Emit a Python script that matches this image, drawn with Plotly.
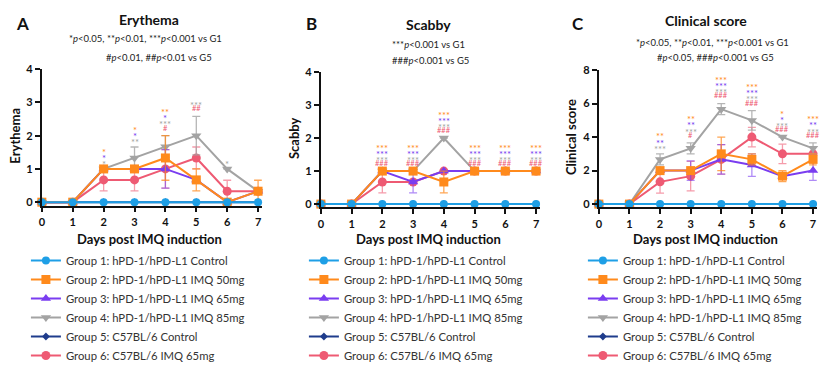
import plotly.graph_objects as go

days = [0, 1, 2, 3, 4, 5, 6, 7]
day_ticks = ["0", "1", "2", "3", "4", "5", "6", "7"]

group_names = [
    "Group 1: hPD-1/hPD-L1 Control",
    "Group 2: hPD-1/hPD-L1 IMQ 50mg",
    "Group 3: hPD-1/hPD-L1 IMQ 65mg",
    "Group 4: hPD-1/hPD-L1 IMQ 85mg",
    "Group 5: C57BL/6 Control",
    "Group 6: C57BL/6 IMQ 65mg",
]

# ---- Erythema ----
ery_g1 = [0, 0, 0, 0, 0, 0, 0, 0]
ery_g2 = [0, 0, 1, 1, 1.33, 0.67, 0, 0.33]
ery_g3 = [0, 0, 1, 1, 1, 0.67, 0, 0.33]
ery_g4 = [0, 0, 1, 1.33, 1.67, 2, 1, 0.33]
ery_g5 = [0, 0, 0, 0, 0, 0, 0, 0]
ery_g6 = [0, 0, 0.67, 0.67, 1, 1.33, 0.33, 0.33]
ery_e2 = [0, 0, 0, 0, 0.67, 0.33, 0, 0.33]
ery_e3 = [0, 0, 0, 0, 0.58, 0, 0, 0]
ery_e4 = [0, 0, 0, 0.33, 0.33, 0.58, 0, 0]
ery_e6 = [0, 0, 0.33, 0.33, 0.58, 0.33, 0.33, 0]
ery_sig = [  # (day, group, label)
    (2, 4, "*"), (2, 3, "*"), (2, 2, "*"),
    (3, 4, "**"), (3, 3, "*"), (3, 2, "*"),
    (4, 6, "#"), (4, 4, "***"), (4, 3, "*"), (4, 2, "**"),
    (5, 6, "##"), (5, 4, "***"),
    (6, 4, "*"),
]

# ---- Scabby ----
scab_g1 = [0, 0, 0, 0, 0, 0, 0, 0]
scab_g2 = [0, 0, 1, 1, 0.67, 1, 1, 1]
scab_g3 = [0, 0, 1, 0.67, 1, 1, 1, 1]
scab_g4 = [0, 0, 1, 1, 2, 1, 1, 1]
scab_g5 = [0, 0, 0, 0, 0, 0, 0, 0]
scab_g6 = [0, 0, 0.67, 0.67, 1, 1, 1, 1]
scab_e2 = [0, 0, 0, 0, 0.33, 0, 0, 0]
scab_e3 = [0, 0, 0, 0.33, 0, 0, 0, 0]
scab_e4 = [0, 0, 0, 0, 0, 0, 0, 0]
scab_e6 = [0, 0, 0.33, 0, 0, 0, 0, 0]
scab_sig = []
for d in [2, 3, 4, 5, 6, 7]:
    scab_sig += [(d, 6, "###"), (d, 4, "***"), (d, 3, "***"), (d, 2, "***")]

# ---- Clinical score ----
clin_g1 = [0, 0, 0, 0, 0, 0, 0, 0]
clin_g2 = [0, 0, 2, 2, 3, 2.67, 1.67, 2.67]
clin_g3 = [0, 0, 2, 2, 2.67, 2.33, 1.67, 2]
clin_g4 = [0, 0, 2.67, 3.33, 5.67, 5, 4, 3.33]
clin_g5 = [0, 0, 0, 0, 0, 0, 0, 0]
clin_g6 = [0, 0, 1.33, 1.67, 2.67, 4, 3, 3]
clin_e2 = [0, 0, 0, 0, 1, 0.33, 0.33, 0.33]
clin_e3 = [0, 0, 0, 0.58, 0.88, 0.67, 0, 0.58]
clin_e4 = [0, 0, 0.33, 0.33, 0.33, 0.58, 0, 0.33]
clin_e6 = [0, 0, 0.67, 0.88, 0.88, 0.58, 0.58, 0]
clin_sig = [
    (2, 4, "***"), (2, 3, "**"), (2, 2, "**"),
    (3, 6, "#"), (3, 4, "***"), (3, 3, "**"), (3, 2, "**"),
    (4, 6, "###"), (4, 4, "***"), (4, 3, "***"), (4, 2, "***"),
    (5, 6, "###"), (5, 4, "***"), (5, 3, "***"), (5, 2, "***"),
    (6, 6, "###"), (6, 4, "***"), (6, 3, "*"), (6, 2, "*"),
    (7, 6, "###"), (7, 4, "***"), (7, 3, "**"), (7, 2, "***"),
]

# ---------------- styling ----------------
W, H = 831, 370
colors = {1: "#1E9FE6", 2: "#FF8A1C", 3: "#7A3DF0", 4: "#A3A3A3", 5: "#1F3C8C", 6: "#EE5A73"}
err_colors = {2: "rgba(255,138,28,0.75)", 3: "rgba(122,61,240,0.6)",
              4: "rgba(163,163,163,0.8)", 6: "rgba(238,90,115,0.6)"}
symbols = {1: "circle", 2: "square", 3: "triangle-up", 4: "triangle-down", 5: "diamond", 6: "circle"}
msizes = {1: 8, 2: 9, 3: 9, 4: 9, 5: 6, 6: 9}
FONT = "Lato"

panels = [
    dict(letter="A", title="Erythema", ylab="Erythema",
         vals={1: ery_g1, 2: ery_g2, 3: ery_g3, 4: ery_g4, 5: ery_g5, 6: ery_g6},
         errs={2: ery_e2, 3: ery_e3, 4: ery_e4, 6: ery_e6}, sig=ery_sig,
         x0=39, x7=256, ytop=65, y0=204, ymax=4, dtick=1,
         sub1="*<i>p</i>&lt;0.05, **<i>p</i>&lt;0.01, ***<i>p</i>&lt;0.001 vs G1",
         sub2="#<i>p</i>&lt;0.01, ##<i>p</i>&lt;0.01 vs G5",
         tx=147, ty=13, s1x=143, s1y=33, s2x=157, s2y=53, lx=20, yl_x=12),
    dict(letter="B", title="Scabby", ylab="Scabby",
         vals={1: scab_g1, 2: scab_g2, 3: scab_g3, 4: scab_g4, 5: scab_g5, 6: scab_g6},
         errs={2: scab_e2, 3: scab_e3, 4: scab_e4, 6: scab_e6}, sig=scab_sig,
         x0=319, x7=535, ytop=68, y0=206, ymax=4, dtick=1,
         sub1="***<i>p</i>&lt;0.001 vs G1",
         sub2="###<i>p</i>&lt;0.001 vs G5",
         tx=427, ty=18, s1x=427, s1y=39, s2x=429, s2y=56, lx=310, yl_x=292),
    dict(letter="C", title="Clinical score", ylab="Clinical score",
         vals={1: clin_g1, 2: clin_g2, 3: clin_g3, 4: clin_g4, 5: clin_g5, 6: clin_g6},
         errs={2: clin_e2, 3: clin_e3, 4: clin_e4, 6: clin_e6}, sig=clin_sig,
         x0=598, x7=813, ytop=66, y0=206, ymax=8, dtick=2,
         sub1="*<i>p</i>&lt;0.05, **<i>p</i>&lt;0.01, ***<i>p</i>&lt;0.001 vs G1",
         sub2="#<i>p</i>&lt;0.05, ###<i>p</i>&lt;0.001 vs G5",
         tx=706, ty=14, s1x=712, s1y=37, s2x=715, s2y=53, lx=577, yl_x=570),
]

fig = go.Figure()
annotations = []
layout_axes = {}
legend_names = ["legend", "legend2", "legend3"]
draw_order = [6, 5, 4, 3, 2, 1]

for i, p in enumerate(panels):
    sfx = "" if i == 0 else str(i + 1)
    xref, yref = "x" + sfx, "y" + sfx
    ppx = (p["x7"] - p["x0"]) / 7.0
    ppu = (p["y0"] - p["ytop"]) / p["ymax"]
    xmax = 7.12
    yneg = -3.5 / ppu
    xr = p["x0"] + xmax * ppx
    ybot = p["y0"] + 3.5
    layout_axes["xaxis" + sfx] = dict(
        domain=[p["x0"] / W, xr / W], range=[0, xmax], anchor=yref,
        tickmode="array", tickvals=days, ticktext=day_ticks,
        showline=True, linecolor="#111", linewidth=1.8, ticks="outside",
        ticklen=5, tickwidth=1.5, tickcolor="#111", showgrid=False, zeroline=False,
        tickfont=dict(family=FONT, size=11, color="#111", weight="bold"))
    layout_axes["yaxis" + sfx] = dict(
        domain=[1 - ybot / H, 1 - p["ytop"] / H], range=[yneg, p["ymax"]], anchor=xref,
        tickmode="linear", tick0=0, dtick=p["dtick"],
        showline=True, linecolor="#111", linewidth=1.8, ticks="outside",
        ticklen=5, tickwidth=1.5, tickcolor="#111", showgrid=False, zeroline=False,
        tickfont=dict(family=FONT, size=11, color="#111", weight="bold"))

    for g in draw_order:
        err = p["errs"].get(g)
        fig.add_trace(go.Scatter(
            x=days, y=p["vals"][g], name=group_names[g - 1], mode="lines+markers",
            xaxis=xref, yaxis=yref, legend=legend_names[i], legendrank=g,
            line=dict(color=colors[g], width=2),
            marker=dict(symbol=symbols[g], size=msizes[g], color=colors[g]),
            error_y=(dict(type="data", array=err, visible=True, color=err_colors[g],
                          thickness=1.3, width=4) if err else None),
            cliponaxis=False, hoverinfo="skip"))

    # significance marks stacked above highest point at each day
    level = {}
    for d, g, lab in p["sig"]:
        top = 0
        for gg, v in p["vals"].items():
            e = p["errs"].get(gg)
            top = max(top, v[d] + (e[d] if e else 0))
        k = level.get(d, 0)
        level[d] = k + 1
        yv = top + (8 + 6.4 * k) / ppu
        star = "*" in lab
        annotations.append(dict(x=d, y=yv, xref=xref, yref=yref, text=lab,
                                showarrow=False, yanchor="middle",
                                yshift=(-3 if star else 0),
                                font=dict(family=FONT, size=9.5 if star else 7.5,
                                          color=colors[g])))

    # titles & texts
    annotations += [
        dict(x=p["lx"] / W, y=1 - 17 / H, xref="paper", yref="paper", text="<b>" + p["letter"] + "</b>",
             showarrow=False, xanchor="center", yanchor="middle",
             font=dict(family=FONT, size=17, color="#111")),
        dict(x=p["tx"] / W, y=1 - p["ty"] / H, xref="paper", yref="paper", text="<b>" + p["title"] + "</b>",
             showarrow=False, xanchor="center", yanchor="middle",
             font=dict(family=FONT, size=14, color="#111")),
        dict(x=p["s1x"] / W, y=1 - p["s1y"] / H, xref="paper", yref="paper", text=p["sub1"],
             showarrow=False, xanchor="center", yanchor="middle",
             font=dict(family=FONT, size=9.5, color="#222")),
        dict(x=p["s2x"] / W, y=1 - p["s2y"] / H, xref="paper", yref="paper", text=p["sub2"],
             showarrow=False, xanchor="center", yanchor="middle",
             font=dict(family=FONT, size=9.5, color="#222")),
        dict(x=p["yl_x"] / W, y=1 - ((p["ytop"] + p["y0"]) / 2) / H, xref="paper", yref="paper",
             text="<b>" + p["ylab"] + "</b>", textangle=-90,
             showarrow=False, xanchor="center", yanchor="middle",
             font=dict(family=FONT, size=13, color="#111")),
        dict(x=((p["x0"] + p["x7"]) / 2) / W, y=1 - 242 / H, xref="paper", yref="paper",
             text="<b>Days post IMQ induction</b>",
             showarrow=False, xanchor="center", yanchor="middle",
             font=dict(family=FONT, size=13, color="#111")),
    ]

legend_x = [23, 302, 582]
legends = {}
for i, name in enumerate(legend_names):
    legends[name] = dict(x=legend_x[i] / W, y=1 - 250 / H, xanchor="left", yanchor="top",
                         xref="paper", yref="paper", bgcolor="rgba(0,0,0,0)",
                         traceorder="normal", itemclick=False,
                         font=dict(family=FONT, size=11.3, color="#333"))

fig.update_layout(
    width=W, height=H, margin=dict(l=0, r=0, t=0, b=0),
    paper_bgcolor="white", plot_bgcolor="white", showlegend=True,
    annotations=annotations, **layout_axes, **legends)

fig.write_html("out.html", config={"displayModeBar": False},
               post_script="document.body.style.margin='0px';document.body.style.padding='0px';")
